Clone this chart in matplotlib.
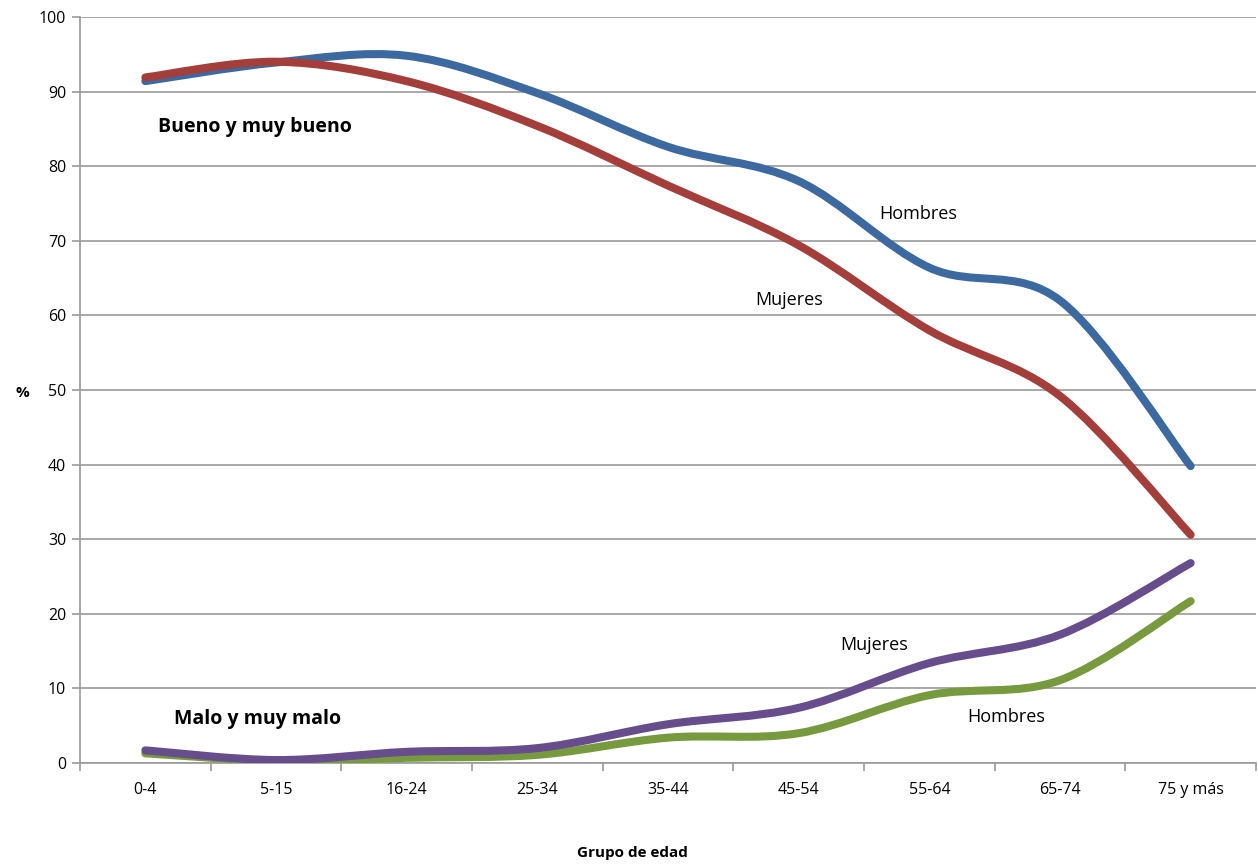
import numpy as np
import matplotlib
matplotlib.use("Agg")
import matplotlib.pyplot as plt
from matplotlib.path import Path
from matplotlib.patches import PathPatch

plt.rcParams["font.family"] = ["Open Sans", "DejaVu Sans"]

# Grupos de edad
grupos = ["0-4", "5-15", "16-24", "25-34", "35-44", "45-54", "55-64", "65-74", "75 y más"]

# Bueno y muy bueno (%)
bueno_hombres = [91.4, 93.9, 94.8, 89.8, 82.6, 78.0, 66.4, 62.0, 39.8]
bueno_mujeres = [91.9, 94.0, 91.4, 85.4, 77.4, 69.4, 58.0, 49.2, 30.6]

# Malo y muy malo (%)
malo_hombres = [1.3, 0.3, 0.7, 1.1, 3.4, 4.0, 9.1, 11.1, 21.7]
malo_mujeres = [1.7, 0.4, 1.5, 2.0, 5.2, 7.4, 13.4, 17.2, 26.8]

COLORS = {
    "bh": "#3D69A1",
    "bm": "#A33E3B",
    "mh": "#779A3F",
    "mm": "#674D8B",
}


def smooth_path(xs, ys):
    # Excel-style smoothed line: Catmull-Rom as cubic Bezier segments
    pts = np.column_stack([xs, ys]).astype(float)
    ext = np.vstack([pts[0], pts, pts[-1]])
    verts = [tuple(pts[0])]
    codes = [Path.MOVETO]
    for i in range(1, len(ext) - 2):
        p0, p1, p2, p3 = ext[i - 1], ext[i], ext[i + 1], ext[i + 2]
        c1 = p1 + (p2 - p0) / 6.0
        c2 = p2 - (p3 - p1) / 6.0
        verts += [tuple(c1), tuple(c2), tuple(p2)]
        codes += [Path.CURVE4] * 3
    return Path(verts, codes)


def main():
    fig = plt.figure(figsize=(12.58, 8.66), dpi=100)
    ax = fig.add_axes([0.0636, 0.1189, 0.9348, 0.8615])

    x = np.arange(len(grupos))
    series = [
        (bueno_hombres, COLORS["bh"]),
        (bueno_mujeres, COLORS["bm"]),
        (malo_hombres, COLORS["mh"]),
        (malo_mujeres, COLORS["mm"]),
    ]
    for vals, col in series:
        patch = PathPatch(smooth_path(x, vals), facecolor="none", edgecolor=col,
                          lw=5.8, capstyle="round", joinstyle="round", zorder=3)
        ax.add_patch(patch)

    ax.set_xlim(-0.5, len(grupos) - 0.5)
    ax.set_ylim(0, 100)
    ax.set_yticks(range(0, 101, 10))
    ax.yaxis.grid(True, color="#9A9A9A", lw=1.2)
    ax.set_axisbelow(True)

    # category labels centred, tick marks on the boundaries
    ax.set_xticks(x)
    ax.set_xticklabels(grupos, fontsize=11.5)
    ax.set_xticks(np.arange(-0.5, len(grupos)), minor=True)
    ax.tick_params(axis="x", which="major", length=0, pad=14)
    ax.tick_params(axis="x", which="minor", length=6, color="#9A9A9A", width=1.2)
    ax.tick_params(axis="y", length=6, color="#9A9A9A", width=1.2, labelsize=11.5, pad=4)

    for s in ["top", "right"]:
        ax.spines[s].set_visible(False)
    for s in ["left", "bottom"]:
        ax.spines[s].set_color("#9A9A9A")
        ax.spines[s].set_linewidth(1.2)

    fig.text(0.012, 0.546, "%", fontsize=11, fontweight="bold", ha="left", va="center")
    fig.text(0.503, 0.015, "Grupo de edad", fontsize=11, fontweight="bold", ha="center", va="center")

    ax.text(0.1, 85.2, "Bueno y muy bueno", fontsize=14, fontweight="bold", va="center")
    ax.text(0.22, 5.9, "Malo y muy malo", fontsize=14, fontweight="bold", va="center")
    ax.text(5.62, 73.6, "Hombres", fontsize=13, va="center")
    ax.text(4.67, 62.0, "Mujeres", fontsize=13, va="center")
    ax.text(5.32, 15.8, "Mujeres", fontsize=13, va="center")
    ax.text(6.29, 6.2, "Hombres", fontsize=13, va="center")

    fig.savefig("out.png", dpi=100)
    plt.close(fig)


if __name__ == "__main__":
    main()
